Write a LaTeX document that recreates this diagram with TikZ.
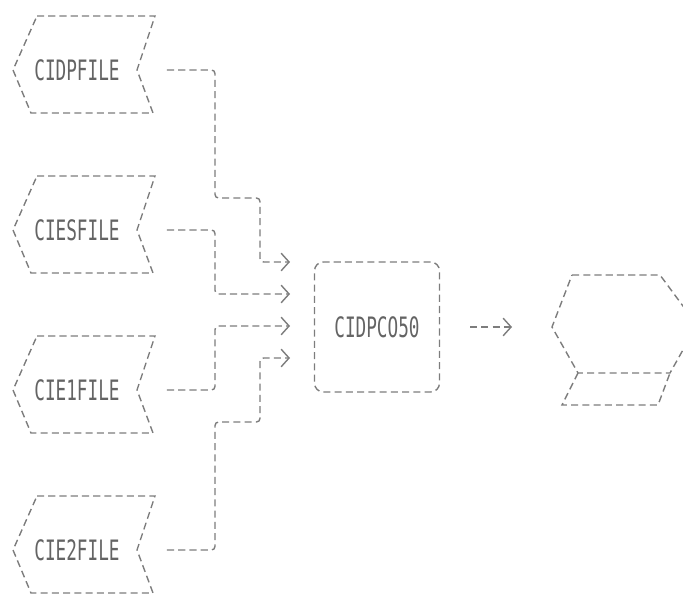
\documentclass[tikz,border=0pt]{standalone}
\usepackage{fontspec}
\usepackage{tikz}
\usetikzlibrary{calc}
\usetikzlibrary{arrows.meta}
\newfontfamily\asciifont[FakeStretch=0.63]{DejaVu Sans Mono}
\definecolor{inkgray}{RGB}{125,125,125}
\definecolor{txtgray}{RGB}{100,100,100}

\begin{document}
\begin{tikzpicture}[x=0.02cm, y=-0.02cm, >={Straight Barb[length=4.5pt,width=10pt]},
  link/.style={draw=inkgray, line width=0.8pt, dash pattern=on 4pt off 2.4pt, rounded corners=2pt},
  fileline/.style={draw=inkgray, line width=0.8pt, dash pattern=on 4pt off 2.4pt},
  filetxt/.style={inner sep=0pt, text=txtgray, font=\asciifont\fontsize{16}{16}\selectfont},
  prog/.style={filetxt, draw=inkgray, line width=0.8pt, dash pattern=on 4pt off 2.4pt, rounded corners=5pt, minimum width=2.5cm, minimum height=2.6cm}]
\useasboundingbox (0,0) rectangle (683,597);

% input files
\node[filetxt] (cidp) at (77,70) {CIDPFILE};
\node[filetxt] (cies) at (77,230) {CIESFILE};
\node[filetxt] (cie1) at (77,390) {CIE1FILE};
\node[filetxt] (cie2) at (77,550) {CIE2FILE};
\draw[fileline] ($(cidp)+(-40,-54)$) -- ($(cidp)+(78,-54)$) -- ($(cidp)+(60,0)$) -- ($(cidp)+(76,43)$) -- ($(cidp)+(-46,43)$) -- ($(cidp)+(-64,0)$) -- cycle;
\draw[fileline] ($(cies)+(-40,-54)$) -- ($(cies)+(78,-54)$) -- ($(cies)+(60,0)$) -- ($(cies)+(76,43)$) -- ($(cies)+(-46,43)$) -- ($(cies)+(-64,0)$) -- cycle;
\draw[fileline] ($(cie1)+(-40,-54)$) -- ($(cie1)+(78,-54)$) -- ($(cie1)+(60,0)$) -- ($(cie1)+(76,43)$) -- ($(cie1)+(-46,43)$) -- ($(cie1)+(-64,0)$) -- cycle;
\draw[fileline] ($(cie2)+(-40,-54)$) -- ($(cie2)+(78,-54)$) -- ($(cie2)+(60,0)$) -- ($(cie2)+(76,43)$) -- ($(cie2)+(-46,43)$) -- ($(cie2)+(-64,0)$) -- cycle;

% program
\node[prog] (pc050) at (377,327) {CIDPCO50};
\coordinate (in1) at (290,262);
\coordinate (in2) at (290,294);
\coordinate (in3) at (290,326);
\coordinate (in4) at (290,358);

% output
\coordinate (disp) at (620,327);
\coordinate (dispin) at ($(disp)+(-68,0)$);
\draw[fileline] ($(disp)+(-48,-52)$) -- ($(disp)+(40,-52)$) -- ($(disp)+(77,-2)$) -- ($(disp)+(50,46)$) -- ($(disp)+(-42,46)$) -- (dispin) -- cycle;
\draw[fileline] ($(disp)+(-42,46)$) -- ($(disp)+(-58,78)$) -- ($(disp)+(38,78)$) -- ($(disp)+(50,46)$);

\draw[link,->,shorten <=0.94cm] (cidp.east) -- (215,70) -- (215,198) -- (260,198) -- (260,262) -- (in1);
\draw[link,->,shorten <=0.94cm] (cies.east) -- (215,230) -- (215,294) -- (in2);
\draw[link,->,shorten <=0.94cm] (cie1.east) -- (215,390) -- (215,326) -- (in3);
\draw[link,->,shorten <=0.94cm] (cie2.east) -- (215,550) -- (215,422) -- (260,422) -- (260,358) -- (in4);
\draw[link,->,shorten <=0.6cm,shorten >=0.8cm] (pc050.east) -- (dispin);
\end{tikzpicture}
\end{document}
